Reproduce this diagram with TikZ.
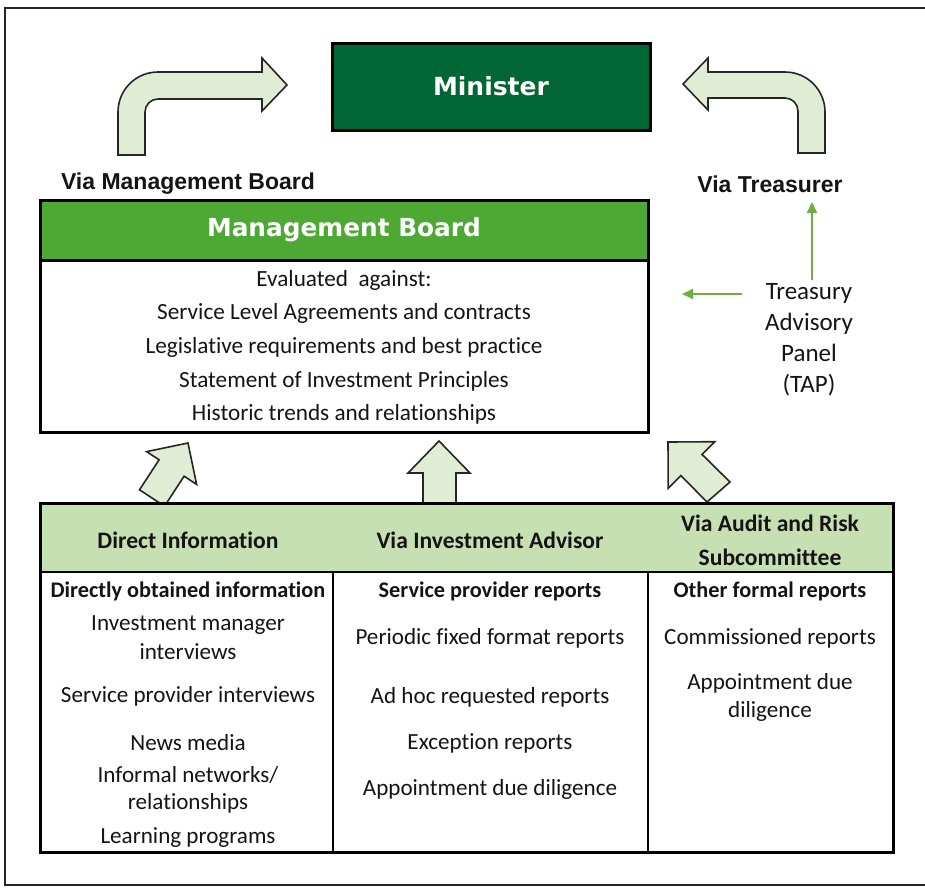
\documentclass[tikz,border=0pt]{standalone}
\usepackage{fontspec}
\setmainfont{Carlito}[Ligatures=NoCommon]
\newfontfamily\verd{DejaVu Sans}
\newfontfamily\arialf{Liberation Sans}
\usetikzlibrary{arrows.meta}
\definecolor{mingreen}{RGB}{0,102,51}
\definecolor{mbgreen}{RGB}{78,168,52}
\definecolor{hdrgreen}{RGB}{198,224,180}
\definecolor{arrfill}{RGB}{224,237,212}
\definecolor{tapgreen}{RGB}{112,173,71}
\definecolor{txt}{RGB}{20,20,20}
\begin{document}
\begin{tikzpicture}[x=1pt,y=-1pt,
  boxline/.style={draw=black,line width=3pt},
  cellline/.style={draw=black,line width=2pt},
  blockarrow/.style={draw=black!85,line width=1.6pt,fill=arrfill,line join=miter},
  body/.style={font=\fontsize{23.2}{26}\selectfont,text=txt,inner sep=0pt},
  tbody/.style={font=\fontsize{23.1}{26}\selectfont,text=txt,inner sep=0pt},
  tbold/.style={font=\fontsize{22.3}{26}\selectfont\bfseries,text=txt,inner sep=0pt},
  thead/.style={font=\fontsize{23.6}{34}\selectfont\bfseries,text=txt,inner sep=0pt,align=center},
  vialabel/.style={font=\arialf\fontsize{23}{26}\selectfont\bfseries,text=txt,inner sep=0pt},
  tapar/.style={draw=tapgreen,line width=2pt,-{Triangle[length=11pt,width=10pt]}}
]
\useasboundingbox (0,0) rectangle (925,887);
% outer frame
\draw[line width=2pt,draw=black!85] (5,8) rectangle (940,885);

% Minister
\node[boxline,fill=mingreen,minimum width=318pt,minimum height=87pt,inner sep=0pt,
  font=\verd\fontsize{25}{28}\selectfont\bfseries,text=white] (min) at (491,86.5) {Minister};

% bent arrows
\draw[blockarrow] (118,155) -- (118,112) .. controls (118,89.9) and (135.9,72) .. (158,72)
  -- (262,72) -- (262,58) -- (287,85) -- (262,111) -- (262,99) -- (158,99)
  .. controls (150.8,99) and (145,104.8) .. (145,112) -- (145,155) -- cycle;
\draw[blockarrow] (798,153) -- (798,111) .. controls (798,103.8) and (792.2,98) .. (785,98)
  -- (708,98) -- (708,110) -- (683,84) -- (708,58) -- (708,72) -- (785,72)
  .. controls (807.1,72) and (825,89.9) .. (825,112) -- (825,153) -- cycle;

% via labels
\node[vialabel] (vmb) at (188,184) {Via Management Board};
\node[vialabel] (vt) at (770,184) {Via Treasurer};

% Management board
\node[boxline,fill=mbgreen,minimum width=608pt,minimum height=60pt,inner sep=0pt,
  font=\verd\fontsize{24.8}{28}\selectfont\bfseries,text=white] (mbh) at (344,230) {Management Board};
\node[boxline,minimum width=608pt,minimum height=172pt,inner sep=0pt] (mbb) at (344,346) {};
\node[body] (e1) at (344,280) {Evaluated\ \ against:};
\node[body] (e2) at (344,313) {Service Level Agreements and contracts};
\node[body] (e3) at (344,347) {Legislative requirements and best practice};
\node[body] (e4) at (344,381) {Statement of Investment Principles};
\node[body] (e5) at (344,414) {Historic trends and relationships};

% TAP
\node[font=\fontsize{25}{31}\selectfont,text=txt,align=center,inner sep=0pt] (tap) at (809,340)
  {Treasury\\Advisory\\Panel\\(TAP)};
\coordinate (tapw) at (742,294);
\coordinate (mbe) at (682,294);
\coordinate (tapn) at (812,280);
\coordinate (vts) at (812,202);
\draw[tapar] (tapw) -- (mbe);
\draw[tapar] (tapn) -- (vts);

% small block arrows
\draw[blockarrow] (188,443) -- (196.6,484.4) -- (184.1,476.2) -- (164.5,506.2) -- (139.5,489.8)
  -- (159.1,459.8) -- (146.6,451.6) -- cycle;
\draw[blockarrow] (439,441) -- (470,473) -- (456,473) -- (456,506) -- (423,506) -- (423,473)
  -- (408,473) -- cycle;
\draw[blockarrow] (668,442) -- (714.8,441.7) -- (702,454.4) -- (730,482) -- (707,502)
  -- (680.9,475.6) -- (668.2,488.3) -- cycle;

% table
\fill[hdrgreen] (40,503) rectangle (893,572);
\node[inner sep=0pt,minimum width=853pt,minimum height=349pt] (tbl) at (466.5,677.5) {};
\draw[cellline] (40,572) -- (893,572);
\draw[cellline] (333,572) -- (333,852);
\draw[cellline] (648,572) -- (648,852);
\draw[boxline] (40,503) rectangle (893,852);

\node[thead] (h1) at (188,540) {Direct Information};
\node[thead] (h2) at (490,540) {Via Investment Advisor};
\node[thead] (h3) at (770,540) {Via Audit and Risk\\Subcommittee};

\node[tbold] (c1a) at (188,591) {Directly obtained information};
\node[tbody] (c1b) at (188,625) {Investment manager};
\node[tbody] (c1c) at (188,652) {interviews};
\node[tbody] (c1d) at (188,696) {Service provider interviews};
\node[tbody] (c1e) at (188,743) {News media};
\node[tbody] (c1f) at (188,775) {Informal networks/};
\node[tbody] (c1g) at (188,803) {relationships};
\node[tbody] (c1h) at (188,838) {Learning programs};

\node[tbold] (c2a) at (490,591) {Service provider reports};
\node[tbody] (c2b) at (490,638) {Periodic fixed format reports};
\node[tbody] (c2c) at (490,697) {Ad hoc requested reports};
\node[tbody] (c2d) at (490,743) {Exception reports};
\node[tbody] (c2e) at (490,789) {Appointment due diligence};

\node[tbold] (c3a) at (770,591) {Other formal reports};
\node[tbody] (c3b) at (770,638) {Commissioned reports};
\node[tbody] (c3c) at (770,683) {Appointment due};
\node[tbody] (c3d) at (770,711) {diligence};
\end{tikzpicture}
\end{document}
